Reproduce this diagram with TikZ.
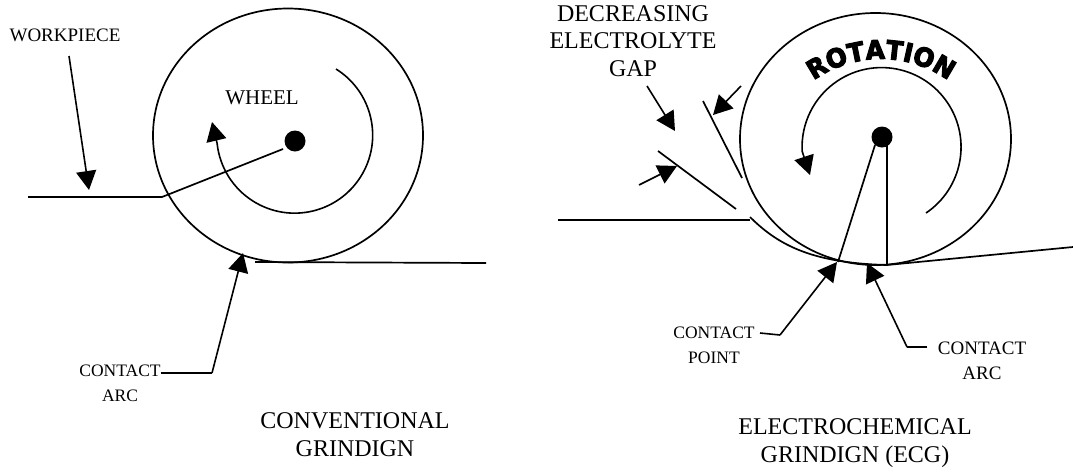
\documentclass[tikz,border=0pt]{standalone}
\usepackage{fontspec}
\setmainfont{Liberation Serif}
\newfontfamily\heavyfont[FakeStretch=0.95, FakeBold=4]{DejaVu Sans Bold}
\usetikzlibrary{arrows.meta,decorations.text}
\tikzset{
  rim/.style={draw, line width=1.7pt},
  line/.style={draw, line width=1.7pt},
  pointer/.style={line width=1.6pt, -{Triangle[length=19pt, width=20pt]}},
  hub/.style={circle, fill=black, inner sep=0pt, minimum size=21pt},
  smalltxt/.style={align=center, inner sep=0pt, font=\fontsize{18}{25}\selectfont},
  bigtxt/.style={align=center, inner sep=0pt, font=\fontsize{24}{28}\selectfont}
}

\begin{document}
\begin{tikzpicture}[x=1pt, y=1pt]
        \useasboundingbox (0,-472) rectangle (1073,0);
        % conventional
        \node[smalltxt, font=\fontsize{19}{25}\selectfont] (workpiece) at (65,-35) {WORKPIECE};
        \node[smalltxt, font=\fontsize{21}{25}\selectfont] (wheel) at (262,-98) {WHEEL};
        \node[smalltxt, font=\fontsize{17.5}{25}\selectfont] (arcA) at (120,-383) {CONTACT\\ARC};
        \node[bigtxt] (titleA) at (355,-435) {CONVENTIONAL\\GRINDIGN};
        \node[hub] (hubA) at (295,-141) {};
        \draw[rim] (288,-135.5) ellipse [x radius=135, y radius=127];
        \coordinate (workA) at (28,-197);
        \coordinate (kneeA) at (162,-197);
        \coordinate (armA) at (283,-149);
        \coordinate (flatA) at (255,-262);
        \coordinate (flatB) at (486,-263);
        \coordinate (fromW) at (69,-56);
        \coordinate (tipW) at (89,-190);
        \coordinate (legA) at (212,-373);
        \coordinate (tipA) at (243,-253);
        \coordinate (spinA) at (336,-69);
        \coordinate (spinB) at (212,-122);
        \draw[line] (workA) -- (kneeA) -- (armA);
        \draw[line] (flatA) -- (flatB);
        \draw[pointer] (fromW) -- (tipW);
        \draw[line width=1.6pt] (arcA.east |- legA) -- (legA);
        \draw[pointer] (legA) -- (tipA);
        \draw[pointer] (spinA) arc[start angle=58, end angle=-174, radius=78] -- (spinB);
        % electrochemical
        \node[bigtxt, font=\fontsize{24}{27.5}\selectfont] (gap) at (633,-41) {DECREASING\\ELECTROLYTE\\GAP};
        \node[smalltxt, font=\fontsize{17.5}{25}\selectfont] (point) at (714,-345) {CONTACT\\POINT};
        \node[smalltxt, font=\fontsize{19}{25}\selectfont] (arcB) at (982,-361) {CONTACT\\ARC};
        \node[bigtxt] (titleB) at (855,-443) {ELECTROCHEMICAL\\GRINDIGN (ECG)};
        \node[hub] (hubB) at (882,-137) {};
        \draw[rim] (875.5,-139) ellipse [x radius=135.5, y radius=126];
        \path[decorate, decoration={text along path, text align=center, raise=0pt,
          text={|\heavyfont\fontsize{26}{26}\selectfont|ROTATION}}]
          (881,-175) ++(150:116) arc[start angle=150, end angle=30, radius=116];
        \coordinate (workB) at (558,-220);
        \coordinate (kneeB) at (750,-220);
        \coordinate (curveB) at (750,-217);
        \coordinate (touchB) at (887,-265);
        \coordinate (exitB) at (1073,-247);
        \coordinate (ptA) at (875,-145);
        \coordinate (ptB) at (838,-262);
        \coordinate (downA) at (887,-143);
        \coordinate (gapAa) at (703,-101);
        \coordinate (gapAb) at (742,-178);
        \coordinate (gapBa) at (658,-151);
        \coordinate (gapBb) at (736,-209);
        \coordinate (spinC) at (926,-213);
        \coordinate (spinD) at (810,-175);
        \draw[line] (workB) -- (kneeB);
        \draw[line] (curveB) .. controls (780,-247) and (815,-263) .. (touchB) -- (exitB);
        \draw[line] (ptA) -- (ptB);
        \draw[line] (downA) -- (touchB);
        \draw[line] (gapAa) -- (gapAb);
        \draw[line] (gapBa) -- (gapBb);
        \draw[pointer] (741,-86) -- (713,-115);
        \draw[pointer] (639,-185) -- (677,-166);
        \draw[pointer] (647,-86) -- (675,-131);
        \draw[line width=1.6pt] (760,-333) -- (780,-335);
        \draw[pointer] (780,-335) -- (837,-262);
        \draw[line width=1.6pt] (927,-347) -- (907,-347);
        \draw[pointer] (907,-347) -- (867,-263);
        \draw[pointer] (spinC) arc[start angle=-56, end angle=183, radius=79.5] -- (spinD);
      \end{tikzpicture}
\end{document}
